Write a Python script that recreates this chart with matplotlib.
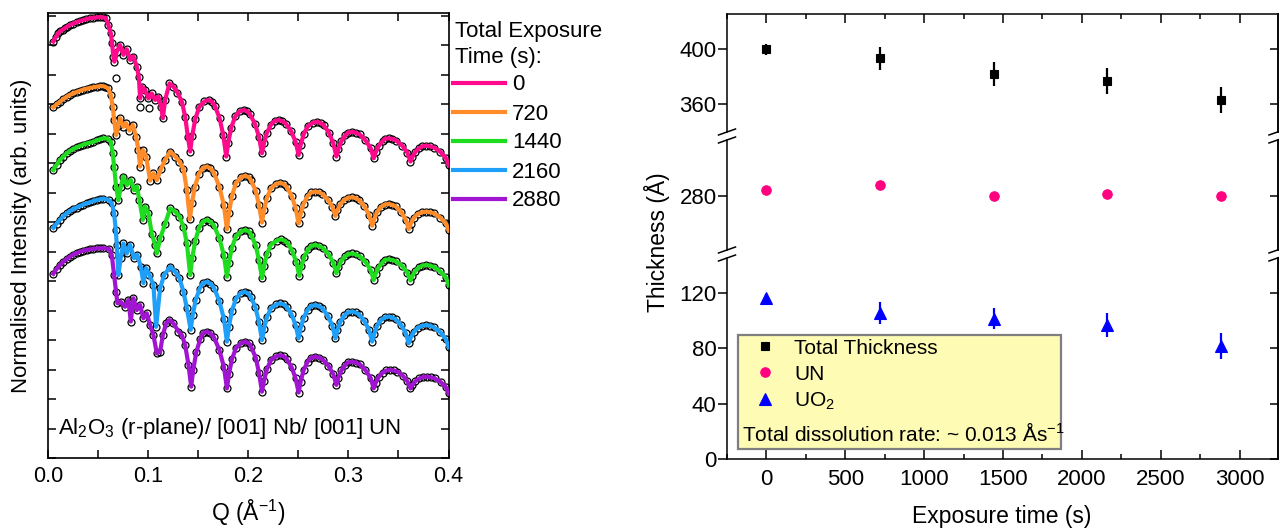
import matplotlib
matplotlib.use('Agg')
import matplotlib.pyplot as plt
from matplotlib.lines import Line2D
from matplotlib.patches import Rectangle
from matplotlib.ticker import MultipleLocator, FormatStrFormatter

plt.rcParams['font.family'] = ['Liberation Sans', 'DejaVu Sans']
plt.rcParams['mathtext.fontset'] = 'custom'
plt.rcParams['mathtext.rm'] = 'Liberation Sans'
plt.rcParams['mathtext.it'] = 'Liberation Sans:italic'
plt.rcParams['mathtext.bf'] = 'Liberation Sans:bold'

# ---------------- data: left panel (normalised reflectivity, stacked, log units) ----------------
exposure_labels = ['0', '720', '1440', '2160', '2880']

pink_q = [0.0053, 0.0078, 0.0103, 0.0123, 0.0145, 0.0165, 0.0187, 0.0218, 0.025, 0.0285,
          0.032, 0.035, 0.038, 0.0415, 0.0453, 0.0487, 0.052, 0.055, 0.0575,
          0.0603, 0.0627, 0.064, 0.0653, 0.0663, 0.0687, 0.072, 0.0753, 0.0787, 0.082,
          0.0853, 0.0887, 0.0907, 0.092, 0.0937, 0.097, 0.1003, 0.1037, 0.107, 0.1103,
          0.113, 0.1147, 0.117, 0.1213, 0.1253, 0.1293, 0.1337, 0.137, 0.1397, 0.142,
          0.144, 0.147, 0.151, 0.1563, 0.1603, 0.1638, 0.1665, 0.1713, 0.175, 0.178,
          0.180, 0.183, 0.187, 0.1913, 0.1953, 0.1988, 0.2017, 0.2067, 0.2107, 0.2137,
          0.2157, 0.2187, 0.2227, 0.2265, 0.2305, 0.234, 0.2374, 0.2428, 0.2473, 0.2503,
          0.2523, 0.2553, 0.2593, 0.2647, 0.2687, 0.2722, 0.2755, 0.2807, 0.285, 0.288,
          0.290, 0.293, 0.297, 0.2997, 0.3037, 0.3072, 0.3113, 0.3171, 0.3223, 0.3253,
          0.3273, 0.3303, 0.3343, 0.3363, 0.3403, 0.3438, 0.3479, 0.3538, 0.359, 0.362,
          0.364, 0.367, 0.371, 0.374, 0.378, 0.3815, 0.3858, 0.3918, 0.3973, 0.4003]
pink_r = [14.13, 14.28, 14.41, 14.48, 14.53, 14.58, 14.63, 14.69, 14.74, 14.79,
          14.83, 14.86, 14.89, 14.92, 14.94, 14.95, 14.96, 14.95, 14.93,
          14.69, 14.41, 14.07, 13.62, 13.45, 13.79, 14.01, 13.68, 13.87, 13.51,
          13.62, 13.28, 12.94, 12.20, 12.60, 12.49, 12.20, 12.37, 12.15, 12.26,
          11.92, 11.53, 12.15, 12.71, 12.60, 12.40, 12.09, 11.58, 10.90, 10.40,
          10.93, 11.49, 11.91, 12.10, 12.15, 12.09, 11.96, 11.54, 10.96, 10.23,
          10.70, 11.21, 11.59, 11.76, 11.81, 11.77, 11.66, 11.34, 10.90, 10.34,
          10.68, 11.04, 11.31, 11.44, 11.47, 11.43, 11.35, 11.09, 10.73, 10.28,
          10.62, 10.98, 11.25, 11.38, 11.41, 11.37, 11.29, 11.03, 10.68, 10.23,
          10.48, 10.75, 10.95, 11.04, 11.07, 11.04, 10.98, 10.78, 10.51, 10.17,
          10.37, 10.59, 10.75, 10.83, 10.85, 10.83, 10.77, 10.60, 10.36, 10.06,
          10.22, 10.39, 10.52, 10.58, 10.60, 10.58, 10.53, 10.39, 10.19, 9.94]
pink_out_q = [0.068, 0.092, 0.1013]
pink_out_r = [12.88, 11.92, 11.87]

orange_q = [0.0053, 0.0085, 0.012, 0.0153, 0.0187, 0.0218, 0.025, 0.0285, 0.032, 0.035,
            0.0385, 0.042, 0.0453, 0.0487, 0.052, 0.0545, 0.057, 0.0603,
            0.0627, 0.0647, 0.066, 0.068, 0.070, 0.072, 0.0753, 0.078, 0.0813, 0.0847,
            0.088, 0.0903, 0.092, 0.0947, 0.098, 0.102, 0.1053, 0.1087, 0.1127, 0.117,
            0.122, 0.127, 0.1313, 0.1353, 0.1387, 0.1417,
            0.1437, 0.1467, 0.1507, 0.1547, 0.1587, 0.1622, 0.1657, 0.1711, 0.1757, 0.1787,
            0.1807, 0.1837, 0.1877, 0.193, 0.197, 0.2005, 0.2028, 0.2074, 0.2107, 0.2137,
            0.2157, 0.2187, 0.2227, 0.228, 0.232, 0.2355, 0.2384, 0.2433, 0.2473, 0.2503,
            0.2523, 0.2553, 0.2593, 0.263, 0.267, 0.2705, 0.274, 0.2794, 0.284, 0.287,
            0.289, 0.292, 0.296, 0.2997, 0.3037, 0.3072, 0.3107, 0.3161, 0.3207, 0.3237,
            0.3257, 0.3287, 0.3327, 0.3363, 0.3403, 0.3438, 0.3473, 0.3527, 0.3573, 0.3603,
            0.3623, 0.3653, 0.3693, 0.374, 0.378, 0.3815, 0.3858, 0.3918, 0.3973, 0.4003]
orange_r = [11.90, 12.00, 12.09, 12.18, 12.26, 12.32, 12.37, 12.42, 12.46, 12.50,
            12.53, 12.56, 12.58, 12.60, 12.62, 12.62, 12.60, 12.54,
            12.32, 11.92, 11.47, 10.96, 11.25, 11.53, 11.24, 11.36, 11.11, 11.30,
            10.90, 10.45, 9.89, 10.45, 10.23, 9.41, 9.66, 9.43, 9.80, 10.11,
            10.40, 10.23, 10.06, 9.80, 9.09, 8.10,
            8.64, 9.21, 9.64, 9.84, 9.89, 9.83, 9.68, 9.21, 8.57, 7.76,
            8.31, 8.89, 9.33, 9.53, 9.58, 9.53, 9.42, 9.07, 8.59, 7.99,
            8.40, 8.83, 9.15, 9.30, 9.34, 9.30, 9.20, 8.90, 8.48, 7.96,
            8.28, 8.63, 8.89, 9.01, 9.04, 9.02, 8.96, 8.77, 8.53, 8.21,
            8.40, 8.61, 8.76, 8.83, 8.85, 8.82, 8.75, 8.54, 8.25, 7.88,
            8.10, 8.34, 8.52, 8.60, 8.62, 8.59, 8.54, 8.35, 8.09, 7.77,
            7.95, 8.14, 8.28, 8.34, 8.36, 8.34, 8.30, 8.16, 7.96, 7.72]

green_q = [0.0053, 0.0085, 0.012, 0.0153, 0.0187, 0.0218, 0.025, 0.0285, 0.032, 0.035,
           0.0385, 0.042, 0.0453, 0.049, 0.052, 0.0553, 0.0595,
           0.0627, 0.0647, 0.066, 0.068, 0.0703, 0.0727, 0.0753, 0.0787, 0.0827, 0.086, 0.0887,
           0.0913, 0.0947, 0.097, 0.1003, 0.1037, 0.107, 0.1087, 0.112, 0.117, 0.122,
           0.127, 0.1313, 0.1353, 0.1387, 0.142,
           0.144, 0.147, 0.151, 0.1547, 0.1587, 0.1622, 0.1657, 0.1711, 0.1757, 0.1787,
           0.1807, 0.1837, 0.1877, 0.193, 0.197, 0.2005, 0.2028, 0.2074, 0.2107, 0.2137,
           0.2157, 0.2187, 0.2227, 0.2287, 0.2327, 0.2362, 0.2391, 0.244, 0.248, 0.251,
           0.253, 0.256, 0.260, 0.263, 0.267, 0.2705, 0.2744, 0.28, 0.285, 0.288,
           0.290, 0.293, 0.297, 0.2997, 0.3037, 0.3072, 0.3113, 0.3171, 0.3223, 0.3253,
           0.3273, 0.3303, 0.3343, 0.3363, 0.3403, 0.3438, 0.3479, 0.3538, 0.359, 0.362,
           0.364, 0.367, 0.371, 0.374, 0.378, 0.3815, 0.3858, 0.3918, 0.3973, 0.4003]
green_r = [9.77, 9.95, 10.11, 10.23, 10.34, 10.42, 10.48, 10.54, 10.59, 10.63,
           10.67, 10.70, 10.73, 10.78, 10.82, 10.85, 10.84,
           10.73, 10.34, 9.89, 9.21, 8.75, 9.20, 9.55, 9.26, 9.43, 9.09, 9.21,
           8.75, 8.08, 8.53, 8.30, 7.60, 7.23, 6.94, 7.45, 7.95, 8.47,
           8.36, 8.19, 7.85, 7.28, 6.21,
           6.77, 7.37, 7.82, 8.02, 8.08, 8.02, 7.89, 7.46, 6.88, 6.15,
           6.63, 7.14, 7.52, 7.69, 7.74, 7.69, 7.58, 7.22, 6.72, 6.10,
           6.50, 6.92, 7.24, 7.38, 7.42, 7.38, 7.30, 7.02, 6.65, 6.18,
           6.50, 6.83, 7.08, 7.20, 7.23, 7.20, 7.13, 6.92, 6.63, 6.27,
           6.47, 6.69, 6.85, 6.92, 6.94, 6.91, 6.85, 6.65, 6.38, 6.04,
           6.25, 6.47, 6.64, 6.72, 6.74, 6.72, 6.67, 6.51, 6.29, 6.02,
           6.18, 6.35, 6.48, 6.53, 6.55, 6.53, 6.48, 6.33, 6.13, 5.87]

blue_q = [0.0053, 0.0085, 0.012, 0.0153, 0.0187, 0.0218, 0.025, 0.0285, 0.032, 0.035,
          0.0385, 0.042, 0.0453, 0.049, 0.052, 0.0553, 0.0605, 0.0637,
          0.066, 0.0677, 0.0687, 0.0703, 0.0727, 0.0753, 0.0787, 0.082, 0.086, 0.0893,
          0.0927, 0.0953, 0.098, 0.1013, 0.1053, 0.108, 0.112, 0.116, 0.122, 0.127,
          0.1313, 0.1353, 0.1387, 0.1425,
          0.1445, 0.1475, 0.1515, 0.1547, 0.1587, 0.1622, 0.1657, 0.1711, 0.1757, 0.1787,
          0.1807, 0.1837, 0.1877, 0.1923, 0.1963, 0.1998, 0.2024, 0.2071, 0.2107, 0.2137,
          0.2157, 0.2187, 0.2227, 0.228, 0.232, 0.2355, 0.2384, 0.2433, 0.2473, 0.2503,
          0.2523, 0.2553, 0.2593, 0.263, 0.267, 0.2705, 0.274, 0.2794, 0.284, 0.287,
          0.289, 0.292, 0.296, 0.2997, 0.3037, 0.3072, 0.3107, 0.3161, 0.3207, 0.3237,
          0.3257, 0.3287, 0.3327, 0.3363, 0.3403, 0.3438, 0.3473, 0.3527, 0.3573, 0.3603,
          0.3623, 0.3653, 0.3693, 0.374, 0.378, 0.3815, 0.3858, 0.3918, 0.3973, 0.4003]
blue_r = [7.81, 7.95, 8.08, 8.20, 8.30, 8.38, 8.44, 8.50, 8.55, 8.60,
          8.64, 8.68, 8.72, 8.76, 8.78, 8.80, 8.76, 8.64,
          8.30, 7.74, 7.23, 6.21, 6.80, 7.28, 6.94, 7.23, 6.78, 6.89,
          6.49, 5.93, 6.44, 6.21, 5.87, 4.45, 5.76, 6.21, 6.49, 6.32,
          6.10, 5.64, 5.08, 4.35,
          4.84, 5.36, 5.75, 5.93, 5.98, 5.92, 5.78, 5.33, 4.72, 3.95,
          4.46, 5.00, 5.40, 5.59, 5.64, 5.59, 5.48, 5.12, 4.62, 4.00,
          4.38, 4.78, 5.08, 5.21, 5.25, 5.21, 5.13, 4.87, 4.51, 4.06,
          4.40, 4.76, 5.03, 5.16, 5.19, 5.16, 5.08, 4.83, 4.49, 4.06,
          4.33, 4.62, 4.84, 4.94, 4.97, 4.94, 4.87, 4.64, 4.34, 3.95,
          4.20, 4.48, 4.68, 4.77, 4.80, 4.77, 4.71, 4.51, 4.24, 3.89,
          4.08, 4.27, 4.42, 4.49, 4.51, 4.49, 4.43, 4.27, 4.04, 3.76]

purple_q = [0.0053, 0.0085, 0.012, 0.0153, 0.0187, 0.0218, 0.025, 0.0285, 0.032, 0.035,
            0.0385, 0.042, 0.0453, 0.049, 0.052, 0.0553, 0.0613, 0.0637,
            0.066, 0.068, 0.0693, 0.0727, 0.077, 0.0803, 0.0827, 0.0853, 0.0887, 0.092,
            0.0953, 0.0987, 0.102, 0.1053, 0.1087, 0.112, 0.1147, 0.118, 0.1213, 0.1253,
            0.1303, 0.1337, 0.137, 0.1403, 0.143,
            0.145, 0.148, 0.152, 0.1547, 0.1587, 0.1622, 0.1657, 0.1711, 0.1757, 0.1787,
            0.1807, 0.1837, 0.1877, 0.193, 0.197, 0.2005, 0.2028, 0.2074, 0.2107, 0.2137,
            0.2157, 0.2187, 0.2227, 0.228, 0.232, 0.2355, 0.2384, 0.2433, 0.2473, 0.2503,
            0.2523, 0.2553, 0.2593, 0.263, 0.267, 0.2705, 0.2744, 0.28, 0.285, 0.288,
            0.290, 0.293, 0.297, 0.2997, 0.3037, 0.3072, 0.3113, 0.3171, 0.3223, 0.3253,
            0.3273, 0.3303, 0.3343, 0.338, 0.342, 0.3455, 0.349, 0.3544, 0.359, 0.362,
            0.364, 0.367, 0.371, 0.3747, 0.3787, 0.3822, 0.3863, 0.3921, 0.3973, 0.4003]
purple_r = [6.25, 6.41, 6.55, 6.66, 6.75, 6.83, 6.90, 6.95, 7.00, 7.03,
            7.06, 7.08, 7.10, 7.11, 7.12, 7.12, 7.09, 6.89,
            6.21, 5.64, 5.25, 5.30, 5.13, 5.36, 4.63, 5.42, 5.02, 5.19,
            4.74, 4.91, 4.51, 4.17, 3.55, 3.61, 4.17, 4.57, 4.68, 4.57,
            4.29, 4.17, 3.83, 3.16, 2.42,
            2.98, 3.58, 4.03, 4.23, 4.29, 4.23, 4.10, 3.67, 3.09, 2.36,
            2.84, 3.35, 3.73, 3.90, 3.95, 3.90, 3.78, 3.41, 2.90, 2.25,
            2.62, 3.02, 3.32, 3.45, 3.49, 3.45, 3.36, 3.08, 2.70, 2.22,
            2.59, 2.98, 3.27, 3.40, 3.44, 3.41, 3.34, 3.13, 2.84, 2.48,
            2.72, 2.97, 3.16, 3.25, 3.27, 3.24, 3.18, 2.98, 2.71, 2.36,
            2.55, 2.75, 2.90, 2.97, 2.99, 2.97, 2.93, 2.79, 2.60, 2.36,
            2.48, 2.61, 2.70, 2.75, 2.76, 2.74, 2.70, 2.58, 2.41, 2.19]

# ---------------- data: right panel ----------------
times = [0, 720, 1440, 2160, 2880]
total_thk = [400.0, 393.5, 382.0, 377.0, 363.0]
total_err = [4.2, 8.4, 8.5, 9.5, 9.3]
un_thk = [284.1, 287.5, 280.0, 281.2, 280.0]
uo2_thk = [116.2, 105.8, 101.7, 96.9, 81.7]
uo2_err = [3.0, 7.8, 7.8, 8.7, 9.6]

# ---------------- figure ----------------
W, H = 1279, 529
fig = plt.figure(figsize=(W / 100, H / 100), dpi=100)


def fx(px):
    return px / W


def fy(py):
    return 1 - py / H


# ---------------- left panel ----------------
axL = fig.add_axes([fx(48), fy(458), 400.5 / W, 445 / H])
curves = [(pink_q, pink_r, '#FF0A8C'), (orange_q, orange_r, '#FF8C28'),
          (green_q, green_r, '#1EDC1E'), (blue_q, blue_r, '#1EA0FA'),
          (purple_q, purple_r, '#A014D2')]
fit_lines = []
for q, r, col in curves:
    axL.plot(q, r, ls='none', marker='o', ms=5.0, mfc='none', mec='black', mew=0.9, zorder=2)
    ln, = axL.plot(q, r, color=col, lw=3.0, zorder=3, solid_joinstyle='round')
    fit_lines.append(ln)
axL.plot(pink_out_q, pink_out_r, ls='none', marker='o', ms=5.0, mfc='none', mec='black', mew=0.9, zorder=2)

axL.set_xlim(0, 0.4)
axL.set_ylim(0, 15.1)
axL.xaxis.set_major_locator(MultipleLocator(0.1))
axL.xaxis.set_minor_locator(MultipleLocator(0.05))
axL.xaxis.set_major_formatter(FormatStrFormatter('%.1f'))
axL.yaxis.set_major_locator(MultipleLocator(1))
axL.tick_params(which='both', direction='in', top=True, right=True, length=5.5, width=1.1)
axL.tick_params(axis='y', labelleft=False)
axL.tick_params(axis='x', labelsize=15.5, pad=6)
for s in axL.spines.values():
    s.set_linewidth(1.2)

axL.set_ylabel('Normalised Intensity (arb. units)', fontsize=16)
axL.yaxis.set_label_coords((22 - 48) / 400.5, 0.5)
axL.yaxis.label.set_va('center')
axL.set_xlabel('Q (Å$^{-1}$)', fontsize=16.5)
axL.xaxis.set_label_coords(0.5, (458 - 521) / 445)
axL.xaxis.label.set_va('baseline')
axL.text((58 - 48) / 400.5, (458 - 434) / 445, 'Al$_2$O$_3$ (r-plane)/ [001] Nb/ [001] UN',
         transform=axL.transAxes, fontsize=16, va='baseline', ha='left')

fig.text(fx(455), fy(37.5), 'Total Exposure', fontsize=16, va='baseline', ha='left')
fig.text(fx(455), fy(63), 'Time (s):', fontsize=16, va='baseline', ha='left')
fig.legend(handles=fit_lines, labels=exposure_labels, loc='upper left',
           bbox_to_anchor=(fx(453), fy(74.5)), frameon=False, fontsize=16,
           handlelength=2.34, handletextpad=0.32, labelspacing=0.36,
           borderpad=0, borderaxespad=0)

# ---------------- right panel (broken y axis) ----------------
x_left, x_w = 727, 550.5
axT = fig.add_axes([fx(x_left), fy(132), x_w / W, 118 / H])
axM = fig.add_axes([fx(x_left), fy(250), x_w / W, 110 / H])
axB = fig.add_axes([fx(x_left), fy(459), x_w / W, 201 / H])

seg = [(axT, (339.9, 425.7), [360, 400]),
       (axM, (240.7, 320.4), [280]),
       (axB, (0, 145.5), [0, 40, 80, 120])]

handles = None
for ax, yl, yt in seg:
    ax.errorbar(times, total_thk, yerr=total_err, fmt='none', ecolor='black', elinewidth=1.6, capsize=0, zorder=2)
    hT, = ax.plot(times, total_thk, ls='none', marker='s', ms=6.2, color='black', mew=0.8, zorder=3)
    hU, = ax.plot(times, un_thk, ls='none', marker='o', ms=6.8, color='#FF0080', mew=0.8, zorder=3)
    ax.errorbar(times, uo2_thk, yerr=uo2_err, fmt='none', ecolor='#0000FF', elinewidth=1.6, capsize=0, zorder=2)
    hO, = ax.plot(times, uo2_thk, ls='none', marker='^', ms=8.0, color='#0000FF', mew=0.8, zorder=3)
    handles = [hT, hU, hO]
    ax.set_xlim(-250, 3240)
    ax.set_ylim(*yl)
    ax.set_yticks(yt)
    ax.tick_params(axis='y', which='major', direction='out', length=6.5, width=1.1, labelsize=16, pad=1)
    ax.xaxis.set_major_locator(MultipleLocator(500))
    ax.xaxis.set_minor_locator(MultipleLocator(250))
    for s in ax.spines.values():
        s.set_linewidth(1.1)
    sec = ax.secondary_yaxis('right')
    sec.set_yticks(yt)
    sec.tick_params(axis='y', direction='in', length=6, width=1.1, labelright=False)
    sec.spines['right'].set_linewidth(1.1)

axT.spines['bottom'].set_visible(False)
axT.tick_params(axis='x', which='both', direction='in', top=True, bottom=False,
                labelbottom=False, labeltop=False, width=1.1)
axT.tick_params(axis='x', which='major', length=6.2)
axT.tick_params(axis='x', which='minor', length=3.6)

axM.spines['top'].set_visible(False)
axM.spines['bottom'].set_visible(False)
axM.tick_params(axis='x', which='both', top=False, bottom=False, labelbottom=False)

axB.spines['top'].set_visible(False)
axB.tick_params(axis='x', which='both', direction='in', top=False, bottom=True,
                labelbottom=True, width=1.1, labelsize=16, pad=7)
axB.tick_params(axis='x', which='major', length=6.2)
axB.tick_params(axis='x', which='minor', length=3.6)

# break marks on both spines
for xp in (727, 1277.5):
    for yp in (132, 140, 250, 258):
        fig.add_artist(Line2D([fx(xp - 8.5), fx(xp + 8.5)], [fy(yp + 3), fy(yp - 3)],
                              transform=fig.transFigure, color='black', lw=1.1))

fig.text(fx(1002), fy(517), 'Exposure time (s)', fontsize=16.5, ha='center', va='center')
fig.text(fx(657), fy(242), 'Thickness (Å)', fontsize=16.5, ha='center', va='center', rotation=90)

# legend box
box = Rectangle((fx(738), fy(449)), (1061 - 738) / W, (449 - 335) / H, transform=fig.transFigure,
                facecolor='#FDFBB4', edgecolor='#7F7F7F', lw=1.6, zorder=2)
fig.add_artist(box)
legR = fig.legend(handles=handles, labels=['Total Thickness', 'UN', 'UO$_2$'], loc='upper left',
                  bbox_to_anchor=(fx(750), fy(338.5)), frameon=False, fontsize=15,
                  handlelength=1.44, handletextpad=0.67, labelspacing=0.34,
                  borderpad=0, borderaxespad=0)
legR.set_zorder(3)
fig.text(fx(742), fy(441), 'Total dissolution rate: ~ 0.013 Ås$^{-1}$', fontsize=15,
         va='baseline', ha='left', zorder=3)

fig.savefig('out.png', dpi=100)
